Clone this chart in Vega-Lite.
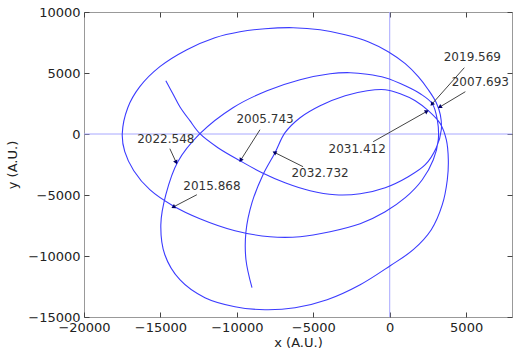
{
  "$schema": "https://vega.github.io/schema/vega-lite/v6.json",
  "autosize": "none",
  "width": 428,
  "height": 305,
  "padding": {"left": 84, "top": 12, "right": 16, "bottom": 38},
  "background": "white",
  "config": {
    "font": "DejaVu Sans",
    "view": {"stroke": "#999999", "strokeWidth": 1},
    "axis": {
      "grid": false,
      "domain": false,
      "ticks": true,
      "tickColor": "#444444",
      "tickWidth": 1,
      "tickSize": 5,
      "offset": -5,
      "labelOverlap": false,
      "labelFlush": false,
      "labelFont": "DejaVu Sans",
      "labelFontSize": 13,
      "labelColor": "#222222",
      "titleFont": "DejaVu Sans",
      "titleFontSize": 13,
      "titleFontWeight": "normal",
      "titleColor": "#222222"
    }
  },
  "datasets": {
    "orbit": [
      {"t": 1, "x": -14646, "y": 4369},
      {"t": 2, "x": -14187, "y": 3303},
      {"t": 3, "x": -13729, "y": 2238},
      {"t": 4, "x": -13073, "y": 1090},
      {"t": 5, "x": -12418, "y": 25},
      {"t": 6, "x": -11238, "y": -1123},
      {"t": 7, "x": -9797, "y": -2189},
      {"t": 8, "x": -8355, "y": -3172},
      {"t": 9, "x": -6848, "y": -3992},
      {"t": 10, "x": -5210, "y": -4648},
      {"t": 11, "x": -3571, "y": -4976},
      {"t": 12, "x": -1933, "y": -4894},
      {"t": 13, "x": -295, "y": -4402},
      {"t": 14, "x": 1212, "y": -3500},
      {"t": 15, "x": 2326, "y": -2516},
      {"t": 16, "x": 3047, "y": -1123},
      {"t": 17, "x": 3375, "y": 352},
      {"t": 18, "x": 3309, "y": 1582},
      {"t": 19, "x": 3047, "y": 2566},
      {"t": 20, "x": 2523, "y": 3631},
      {"t": 21, "x": 1868, "y": 4697},
      {"t": 22, "x": 1016, "y": 5762},
      {"t": 23, "x": -98, "y": 6746},
      {"t": 24, "x": -1409, "y": 7566},
      {"t": 25, "x": -2916, "y": 8140},
      {"t": 26, "x": -4554, "y": 8549},
      {"t": 27, "x": -6324, "y": 8713},
      {"t": 28, "x": -8159, "y": 8631},
      {"t": 29, "x": -9797, "y": 8386},
      {"t": 30, "x": -11435, "y": 7894},
      {"t": 31, "x": -13269, "y": 6910},
      {"t": 32, "x": -15038, "y": 5517},
      {"t": 33, "x": -16349, "y": 3877},
      {"t": 34, "x": -17136, "y": 2156},
      {"t": 35, "x": -17497, "y": 25},
      {"t": 36, "x": -17333, "y": -1451},
      {"t": 37, "x": -16743, "y": -3008},
      {"t": 38, "x": -15694, "y": -4566},
      {"t": 39, "x": -14187, "y": -5877},
      {"t": 40, "x": -12418, "y": -6943},
      {"t": 41, "x": -10124, "y": -7927},
      {"t": 42, "x": -7831, "y": -8418},
      {"t": 43, "x": -5865, "y": -8418},
      {"t": 44, "x": -3899, "y": -8008},
      {"t": 45, "x": -1933, "y": -7353},
      {"t": 46, "x": -295, "y": -6369},
      {"t": 47, "x": 1016, "y": -5221},
      {"t": 48, "x": 2130, "y": -3746},
      {"t": 49, "x": 2851, "y": -2107},
      {"t": 50, "x": 3178, "y": -467},
      {"t": 51, "x": 3113, "y": 1172},
      {"t": 52, "x": 2785, "y": 2484},
      {"t": 53, "x": 1999, "y": 3303},
      {"t": 54, "x": 1016, "y": 3959},
      {"t": 55, "x": -295, "y": 4615},
      {"t": 56, "x": -1474, "y": 4902},
      {"t": 57, "x": -2588, "y": 5025},
      {"t": 58, "x": -3899, "y": 4943},
      {"t": 59, "x": -5865, "y": 4451},
      {"t": 60, "x": -8027, "y": 3549},
      {"t": 61, "x": -10256, "y": 2156},
      {"t": 62, "x": -12418, "y": 25},
      {"t": 63, "x": -13860, "y": -2271},
      {"t": 64, "x": -14646, "y": -4976},
      {"t": 65, "x": -14974, "y": -7435},
      {"t": 66, "x": -14711, "y": -9894},
      {"t": 67, "x": -13729, "y": -11943},
      {"t": 68, "x": -12090, "y": -13418},
      {"t": 69, "x": -10124, "y": -14156},
      {"t": 70, "x": -8159, "y": -14402},
      {"t": 71, "x": -6193, "y": -14238},
      {"t": 72, "x": -4096, "y": -13582},
      {"t": 73, "x": -1933, "y": -12353},
      {"t": 74, "x": 33, "y": -10795},
      {"t": 75, "x": 1540, "y": -9484},
      {"t": 76, "x": 2719, "y": -7845},
      {"t": 77, "x": 3440, "y": -5795},
      {"t": 78, "x": 3768, "y": -3746},
      {"t": 79, "x": 3834, "y": -2107},
      {"t": 80, "x": 3702, "y": -467},
      {"t": 81, "x": 3309, "y": 844},
      {"t": 82, "x": 2523, "y": 1910},
      {"t": 83, "x": 1671, "y": 2730},
      {"t": 84, "x": 688, "y": 3303},
      {"t": 85, "x": -295, "y": 3631},
      {"t": 86, "x": -1474, "y": 3549},
      {"t": 87, "x": -2916, "y": 3139},
      {"t": 88, "x": -4554, "y": 2320},
      {"t": 89, "x": -5865, "y": 1336},
      {"t": 90, "x": -6848, "y": 107},
      {"t": 91, "x": -7503, "y": -1533},
      {"t": 92, "x": -8290, "y": -3336},
      {"t": 93, "x": -9010, "y": -5631},
      {"t": 94, "x": -9404, "y": -8008},
      {"t": 95, "x": -9404, "y": -10304},
      {"t": 96, "x": -9010, "y": -12599}
    ],
    "notes": [
      {"label": "2005.743", "lx": -8158, "ly": 1254, "sx": -8486, "sy": 352, "tx": -9731, "ty": -2107},
      {"label": "2007.693", "lx": 5930, "ly": 4287, "sx": 4948, "sy": 3467, "tx": 3309, "ty": 2238},
      {"label": "2019.569", "lx": 5406, "ly": 6336, "sx": 4882, "sy": 5435, "tx": 2785, "ty": 2484},
      {"label": "2031.412", "lx": -2130, "ly": -1205, "sx": -1081, "sy": -631, "tx": 2392, "ty": 1828},
      {"label": "2032.732", "lx": -4554, "ly": -3172, "sx": -5668, "sy": -2680, "tx": -7503, "ty": -1533},
      {"label": "2022.548", "lx": -14646, "ly": -385, "sx": -14384, "sy": -1205, "tx": -13991, "ty": -2271},
      {"label": "2015.868", "lx": -11631, "ly": -4238, "sx": -12615, "sy": -4976, "tx": -14122, "ty": -5959}
    ],
    "zero": [{"v": 0}]
  },
  "resolve": {"axis": {"x": "independent", "y": "independent"}},
  "layer": [
    {
      "data": {"name": "zero"},
      "mark": {"type": "rule", "color": "#a8a8ff", "strokeWidth": 1},
      "encoding": {
        "x": {"field": "v", "type": "quantitative", "scale": {"domain": [-20000, 8000], "nice": false, "zero": false},
          "axis": {"orient": "top", "labels": false, "title": null, "values": [-20000, -15000, -10000, -5000, 0, 5000]}}
      }
    },
    {
      "data": {"name": "zero"},
      "mark": {"type": "rule", "color": "#a8a8ff", "strokeWidth": 1},
      "encoding": {
        "y": {"field": "v", "type": "quantitative", "scale": {"domain": [-15000, 10000], "nice": false, "zero": false},
          "axis": {"orient": "right", "labels": false, "title": null, "values": [-15000, -10000, -5000, 0, 5000, 10000]}}
      }
    },
    {
      "data": {"name": "orbit"},
      "mark": {"type": "line", "interpolate": "catmull-rom", "color": "#3b3bff", "strokeWidth": 1.1},
      "encoding": {
        "x": {"field": "x", "type": "quantitative",
          "axis": {"orient": "bottom", "title": "x (A.U.)", "format": "d", "values": [-20000, -15000, -10000, -5000, 0, 5000], "labelPadding": 4, "titlePadding": 2}},
        "y": {"field": "y", "type": "quantitative",
          "axis": {"orient": "left", "title": "y (A.U.)", "format": "d", "values": [-15000, -10000, -5000, 0, 5000, 10000], "labelPadding": 4, "titlePadding": 8}},
        "order": {"field": "t", "type": "quantitative"}
      }
    },
    {
      "data": {"name": "notes"},
      "mark": {"type": "rule", "color": "#444444", "strokeWidth": 1},
      "encoding": {
        "x": {"field": "sx", "type": "quantitative", "axis": null},
        "y": {"field": "sy", "type": "quantitative", "axis": null},
        "x2": {"field": "tx"},
        "y2": {"field": "ty"}
      }
    },
    {
      "data": {"name": "notes"},
      "transform": [
        {"calculate": "atan2((datum.tx - datum.sx) * 76.3 / 5000, (datum.ty - datum.sy) * 61 / 5000) * 180 / PI", "as": "ang"}
      ],
      "mark": {"type": "point", "shape": "triangle", "filled": true, "color": "#000066", "size": 22, "opacity": 1},
      "encoding": {
        "x": {"field": "tx", "type": "quantitative", "axis": null},
        "y": {"field": "ty", "type": "quantitative", "axis": null},
        "angle": {"field": "ang", "type": "quantitative", "scale": null}
      }
    },
    {
      "data": {"name": "notes"},
      "mark": {"type": "text", "fontSize": 12, "color": "#333333", "align": "center", "baseline": "middle", "font": "DejaVu Sans"},
      "encoding": {
        "x": {"field": "lx", "type": "quantitative", "axis": null},
        "y": {"field": "ly", "type": "quantitative", "axis": null},
        "text": {"field": "label"}
      }
    }
  ]
}
